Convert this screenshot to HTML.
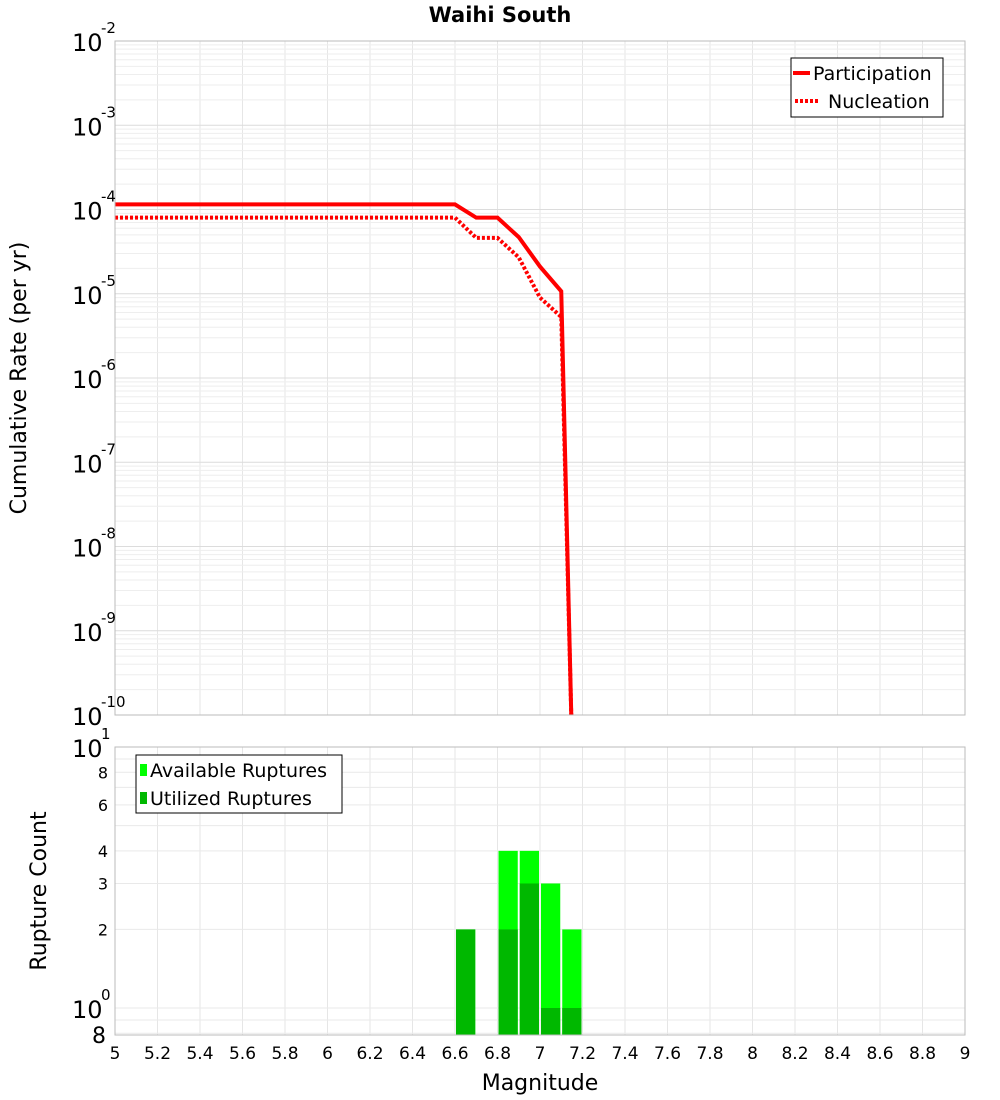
<!DOCTYPE html>
<html><head><meta charset="utf-8"><style>
body{margin:0;background:#fff;}
svg{display:block;font-family:"DejaVu Sans","Liberation Sans",sans-serif;}
</style></head><body>
<svg id="c" width="1000" height="1100" viewBox="0 0 1000 1100">
<text x="500" y="22" text-anchor="middle" font-size="21" font-weight="bold">Waihi South</text>
<g id="grid1"></g>
<g id="grid2"></g>
<g id="bars"></g>
<g id="lines"></g>
<rect x="115" y="41" width="850" height="674" fill="none" stroke="#bbb"/>
<rect x="115" y="747" width="850" height="288" fill="none" stroke="#bbb"/>
<g id="ytop"></g>
<g id="ybot"></g>
<g id="xt"></g>
<text transform="translate(26,378) rotate(-90)" text-anchor="middle" font-size="22">Cumulative Rate (per yr)</text>
<text transform="translate(46,891) rotate(-90)" text-anchor="middle" font-size="22">Rupture Count</text>
<text x="540" y="1090" text-anchor="middle" font-size="22">Magnitude</text>
<g>
<rect x="791" y="58" width="152" height="59" fill="#fff" stroke="#000"/>
<line x1="793" y1="73" x2="810" y2="73" stroke="red" stroke-width="4"/>
<text x="813" y="80" font-size="19">Participation</text>
<line x1="795" y1="101" x2="820" y2="101" stroke="red" stroke-width="4" stroke-dasharray="3,2"/>
<text x="828" y="108" font-size="19">Nucleation</text>
</g>
<g>
<rect x="136" y="755" width="206" height="58" fill="#fff" stroke="#000"/>
<rect x="140" y="764" width="7" height="12" fill="#00ff00"/>
<text x="150" y="777" font-size="19">Available Ruptures</text>
<rect x="140" y="792" width="7" height="12" fill="#00b800"/>
<text x="150" y="805" font-size="19">Utilized Ruptures</text>
</g>
</svg>
<script>
const partMags=[5,6.6,6.7,6.8,6.9,7.0,7.1,7.15];
const partRates=[1.15e-4,1.15e-4,8e-5,8e-5,4.7e-5,2.1e-5,1.07e-5,5e-11];
const nuclMags=[5,6.6,6.7,6.8,6.9,7.0,7.1,7.15];
const nuclRates=[8e-5,8e-5,4.6e-5,4.6e-5,2.7e-5,9e-6,5.3e-6,5e-11];
const barMags=[6.6,6.8,6.9,7.0,7.1];
const availCounts=[2,4,4,3,2];
const utilCounts=[2,2,3,1,1];
const xTicks=[5,5.2,5.4,5.6,5.8,6,6.2,6.4,6.6,6.8,7,7.2,7.4,7.6,7.8,8,8.2,8.4,8.6,8.8,9];
const xTickLabels=["5","5.2","5.4","5.6","5.8","6","6.2","6.4","6.6","6.8","7","7.2","7.4","7.6","7.8","8","8.2","8.4","8.6","8.8","9"];
const topExps=[-2,-3,-4,-5,-6,-7,-8,-9,-10];
const botTicks=[8,6,4,3,2];
const NS="http://www.w3.org/2000/svg";
const X=m=>115+(m-5)*212.5;
const Y1=v=>41+(-2-Math.log10(v))*84.25;
const Y2=v=>1008-Math.log10(v)*261;
function mk(t,a,p){const e=document.createElementNS(NS,t);for(const k in a)e.setAttribute(k,a[k]);p.appendChild(e);return e;}
const g1=document.getElementById('grid1'),g2=document.getElementById('grid2');
// x grid
for(let m=5;m<=9.001;m+=0.2){mk('line',{x1:X(m),x2:X(m),y1:41,y2:715,stroke:'#e6e6e6'},g1);mk('line',{x1:X(m),x2:X(m),y1:747,y2:1035,stroke:'#e6e6e6'},g2);}
for(let e=-10;e<-2;e++){for(let k=1;k<10;k++){const y=Y1(k*Math.pow(10,e));mk('line',{x1:115,x2:965,y1:y,y2:y,stroke:k==1?'#dcdcdc':'#eeeeee'},g1);}}
[0.8,0.9,1,2,3,4,5,6,7,8,9,10].forEach(v=>{const y=Y2(v);mk('line',{x1:115,x2:965,y1:y,y2:y,stroke:'#e9e9e9'},g2);});
// bars
const bg=document.getElementById('bars');
barMags.forEach((m,i)=>{
 const x=X(m)+1,w=212.5*0.1-2;
 const a=mk('rect',{x:x,y:Y2(availCounts[i]),width:w,height:1035-Y2(availCounts[i]),fill:'#00ff00'},bg);
 
 const u=mk('rect',{x:x,y:Y2(utilCounts[i]),width:w,height:1035-Y2(utilCounts[i]),fill:'#00b800'},bg);
 
});
// lines
const lg=document.getElementById('lines');
mk('clipPath',{id:'cp'},lg).appendChild(Object.assign(document.createElementNS(NS,'rect'),{}));
document.querySelector('#cp rect').setAttribute('x',115);document.querySelector('#cp rect').setAttribute('y',41);
document.querySelector('#cp rect').setAttribute('width',850);document.querySelector('#cp rect').setAttribute('height',674);
const pp=mk('polyline',{points:partMags.map((m,i)=>X(m)+','+Y1(partRates[i])).join(' '),fill:'none',stroke:'red','stroke-width':4,'clip-path':'url(#cp)'},lg);

const np=mk('polyline',{points:nuclMags.map((m,i)=>X(m)+','+Y1(nuclRates[i])).join(' '),fill:'none',stroke:'red','stroke-width':4,'stroke-dasharray':'3,2','clip-path':'url(#cp)'},lg);

// top y ticks
const yt=document.getElementById('ytop');
topExps.forEach(e=>{const y=Y1(Math.pow(10,e));
 const t=mk('text',{x:72,y:y+10,'font-size':24},yt);t.textContent='10';
 
 const s=mk('text',{x:101,y:y-8,'font-size':15},yt);s.textContent=String(e);
 });
// bottom y ticks
const yb=document.getElementById('ybot');
[[10,'1'],[1,'0']].forEach(([v,e])=>{const y=Y2(v);
 const t=mk('text',{x:72,y:y+10,'font-size':24},yb);t.textContent='10';
 
 const s=mk('text',{x:101,y:y-8,'font-size':15},yb);s.textContent=e;
 });
botTicks.forEach(v=>{const y=Y2(v)+(v==8&&false?0:0);
 const t=mk('text',{x:108,y:y+6,'font-size':16,'text-anchor':'end'},yb);t.textContent=String(v);
 });
const t8=mk('text',{x:106,y:1043,'font-size':22,'text-anchor':'end'},yb);t8.textContent='8';

// x ticks
const xt=document.getElementById('xt');
xTicks.forEach((m,i)=>{const t=mk('text',{x:X(m),y:1059,'font-size':17,'text-anchor':'middle'},xt);t.textContent=xTickLabels[i];
 });
</script>
</body></html>
